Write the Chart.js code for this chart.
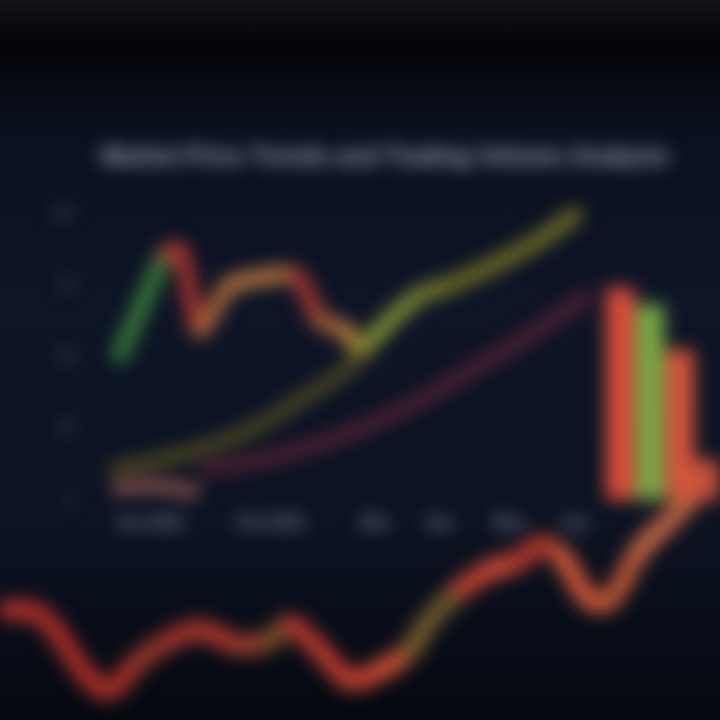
<!DOCTYPE html>
<html>
<head>
<meta charset="utf-8">
<script src="https://cdn.jsdelivr.net/npm/chart.js@4.4.1/dist/chart.umd.min.js"></script>
<style>
  html, body { margin: 0; padding: 0; }
  body {
    width: 720px; height: 720px; overflow: hidden;
    background: linear-gradient(to bottom, #121418 0px, #030408 45px, #0a101d 120px, #0e1527 300px, #0c1322 520px, #060911 720px);
  }
  #wrap { position: relative; width: 720px; height: 720px; filter: blur(9px); }
  #wrap canvas { position: absolute; left: 0; top: 0; }
</style>
</head>
<body>
<div id="wrap">
  <canvas id="waveChart" width="720" height="720"></canvas>
  <canvas id="mainChart" width="720" height="720"></canvas>
</div>
<script>
// main price line (x in %, y in value units)
const priceX = [3.2, 10.5, 12.9, 16.1, 21, 31.5, 35.5, 39.5, 42, 46.8, 51.6, 56.5, 64.5, 71, 76.6];
const priceY = [50.8, 85.8, 87.6, 59.5, 75.3, 78.8, 63, 59.5, 52.5, 63, 71.8, 75.3, 83.4, 91.1, 99.8];

// slow trend line rising from the bottom left
const trendX = [1.6, 12.9, 24.2, 32.3, 38.7, 43.5];
const trendY = [10.5, 15.8, 24.5, 35, 43.8, 52.5];

// moving average (dark red)
const avgX = [16.1, 25.8, 37.1, 45.2, 53.2, 61.3, 69.4, 79];
const avgY = [10.5, 14, 21, 28, 36.8, 47.3, 57.8, 71.8];

// short line on the baseline
const baseX = [2, 8, 16];
const baseY = [4, 5, 3];

// volume bars on the right
const barX = [83.9, 88.7, 93.5, 98];
const barY = [74.3, 68.3, 52.5, 14];

// wave in the foreground below the chart
const waveX = [0, 5.6, 12.5, 15.3, 19.4, 23.6, 27.8, 33.3, 37.5, 40.3, 44.4, 48.6, 52.8, 56.9, 59.7, 63.9, 68.1, 72.2, 75, 77.8, 81.9, 84.7, 88.9, 93.1, 97.2, 100];
const waveY = [15.3, 14.6, 5.6, 4.2, 8.3, 11.1, 12.5, 10.4, 11.1, 13.2, 9.7, 5.6, 6.9, 9.7, 13.9, 18.1, 20.8, 22.2, 24.3, 22.9, 16.7, 16.7, 23.6, 27.8, 31.9, 33.3];

// tick labels
const xTickPos = [8, 27.4, 44.4, 54.8, 66, 76.6];
const xTickLabels = ['Jan 2023', 'Feb 2023', 'Mar', 'Apr', 'May', 'Jun'];
const yTickLabels = ['0', '25', '50', '75', '100'];

const titleText = 'Market Price Trends and Trading Volume Analysis';

// styles
const priceColors = ['#3a7e3a', '#b0503a', '#a8352e', '#b0663a', '#bc7840', '#a8382f', '#b26238', '#bc823a', '#8e9c36', '#849434', '#7e822c', '#726e26', '#726e26', '#726e26'];
const barColors = ['#d94c39', '#78a846', '#d4553b', '#c4533a'];
const waveColors = ['#b2302a', '#aa2e28', '#b0302a', '#a8322a', '#96382a', '#a4342a', '#ac382c', '#9c3e2c', '#7a4e2a', '#b4382c', '#bc3a2d', '#c6422e', '#d05232', '#7a5c2c', '#6e5a2c', '#c0432e', '#d04a36', '#b6392c', '#ae3a2c', '#d05838', '#d05838', '#bc5836', '#c86844', '#be6444', '#be6444'];

function pts(xs, ys) {
    return xs.map((x, i) => ({ x: x, y: ys[i] }));
}

const waveChart = new Chart(document.getElementById('waveChart'), {
    type: 'line',
    data: {
        datasets: [{
            data: pts(waveX, waveY),
            borderWidth: 20,
            tension: 0.35,
            pointRadius: 0,
            borderCapStyle: 'round',
            segment: { borderColor: ctx => waveColors[ctx.p0DataIndex] },
        }],
    },
    options: {
        responsive: false,
        animation: false,
        layout: { padding: 0 },
        plugins: { legend: { display: false }, tooltip: { enabled: false } },
        scales: {
            x: { type: 'linear', display: false, min: 0, max: 100 },
            y: { display: false, min: 0, max: 100 },
        },
    },
});

const mainChart = new Chart(document.getElementById('mainChart'), {
    data: {
        datasets: [
            {
                type: 'line',
                label: 'Trend',
                data: pts(trendX, trendY),
                borderColor: '#5e5622',
                borderWidth: 11,
                tension: 0.3,
                pointRadius: 0,
            },
            {
                type: 'line',
                label: 'Average',
                data: pts(avgX, avgY),
                borderColor: '#582234',
                borderWidth: 13,
                tension: 0.3,
                pointRadius: 0,
            },
            {
                type: 'line',
                label: 'Base',
                data: pts(baseX, baseY),
                borderColor: '#9a5a54',
                borderWidth: 12,
                tension: 0.3,
                pointRadius: 0,
            },
            {
                type: 'line',
                label: 'Price',
                data: pts(priceX, priceY),
                borderWidth: 16,
                tension: 0.15,
                pointRadius: 0,
                borderCapStyle: 'round',
                borderJoinStyle: 'round',
                segment: { borderColor: ctx => priceColors[ctx.p0DataIndex] },
            },
            {
                type: 'bar',
                label: 'Volume',
                data: pts(barX, barY),
                backgroundColor: barColors,
                barThickness: 28,
            },
        ],
    },
    options: {
        responsive: false,
        animation: false,
        layout: { padding: { left: 50, top: 143, right: 0, bottom: 190 } },
        plugins: {
            legend: { display: false },
            tooltip: { enabled: false },
            title: {
                display: true,
                text: titleText,
                color: '#aab4c8',
                font: { family: 'Liberation Sans', size: 24, weight: 'bold' },
                padding: { top: 0, bottom: 14 },
            },
        },
        scales: {
            x: {
                type: 'linear',
                min: 0,
                max: 100,
                offset: false,
                grid: { display: false, offset: false },
                border: { display: false },
                afterFit: s => { s.height = 30; },
                afterBuildTicks: s => { s.ticks = xTickPos.map(v => ({ value: v })); },
                ticks: {
                    color: '#8a94a8',
                    padding: 6,
                    font: { family: 'Liberation Sans', size: 16, weight: 'bold' },
                    maxRotation: 0,
                    autoSkip: false,
                    callback: (v, i) => xTickLabels[i],
                },
            },
            y: {
                min: 0,
                max: 110,
                grid: { display: false },
                border: { display: false },
                afterFit: s => { s.width = 50; },
                ticks: {
                    stepSize: 25,
                    color: '#4e566a',
                    padding: 18,
                    font: { family: 'Liberation Sans', size: 14, weight: 'bold' },
                    callback: (v, i) => yTickLabels[i],
                },
            },
        },
    },
});
</script>
</body>
</html>
